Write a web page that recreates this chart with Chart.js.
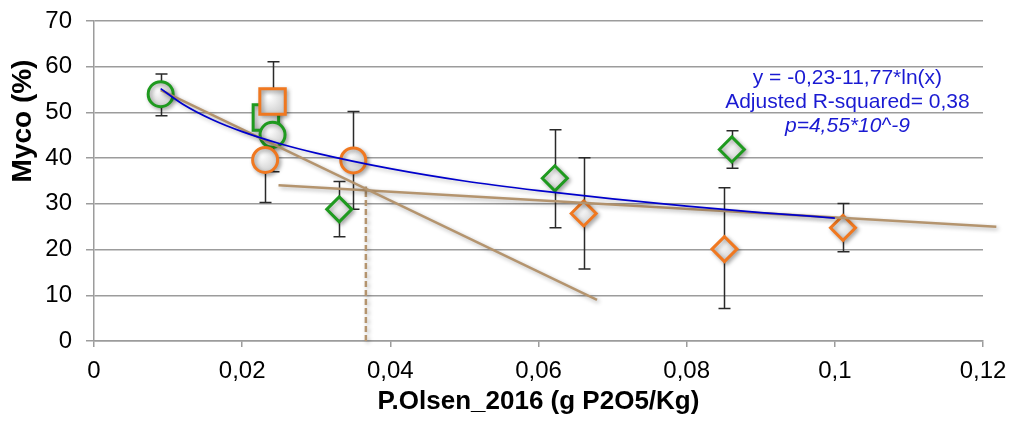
<!DOCTYPE html>
<html>
<head>
<meta charset="utf-8">
<script src="https://cdn.jsdelivr.net/npm/chart.js@4.4.0/dist/chart.umd.min.js"></script>
<style>
  html, body { margin: 0; padding: 0; background: #fff; }
  #wrap { width: 1013px; height: 430px; }
</style>
</head>
<body>
<div id="wrap"><canvas id="myco"></canvas></div>
<script>
// values
const xTickLabels = ['0', '0,02', '0,04', '0,06', '0,08', '0,1', '0,12'];

const greenCircleX = [0.0090, 0.0241];
const greenCircleY = [54.0, 45.1];
const greenCircleHi = [58.4, 52.0];
const greenCircleLo = [49.3, 37.0];

const orangeCircleX = [0.0231, 0.0350];
const orangeCircleY = [39.6, 39.5];
const orangeCircleHi = [45.0, 50.2];
const orangeCircleLo = [30.3, 28.8];

const greenSquareX = [0.0232];
const greenSquareY = [48.9];
const greenSquareHi = [52.0];
const greenSquareLo = [46.0];

const orangeSquareX = [0.0241];
const orangeSquareY = [52.4];
const orangeSquareHi = [61.1];
const orangeSquareLo = [44.0];

const greenDiamondX = [0.0331, 0.0622, 0.0861];
const greenDiamondY = [28.8, 35.6, 41.9];
const greenDiamondHi = [34.9, 46.2, 46.0];
const greenDiamondLo = [22.8, 24.8, 37.8];

const orangeDiamondX = [0.0661, 0.0851, 0.1011];
const orangeDiamondY = [27.9, 20.1, 24.75];
const orangeDiamondHi = [40.1, 33.5, 30.1];
const orangeDiamondLo = [15.75, 7.1, 19.5];

// blue log fit
const logFitX = [0.009, 0.012, 0.016, 0.02, 0.025, 0.03, 0.04, 0.05, 0.06, 0.07, 0.08, 0.09, 0.1];
const logFitY = [55.2, 51.8, 48.4, 45.8, 43.2, 41.1, 37.7, 35.0, 32.9, 31.1, 29.5, 28.1, 26.9];

// tan straight lines and the dashed breakpoint marker
const steepLineX = [0.0090, 0.0679];
const steepLineY = [54.9, 9.0];
const flatLineX = [0.0249, 0.1218];
const flatLineY = [34.05, 24.97];
const breakX = [0.0367, 0.0367];
const breakY = [0, 33.8];

const fitText = ['y = -0,23-11,77*ln(x)', 'Adjusted R-squared= 0,38', 'p=4,55*10^-9'];

const GREEN = '#1f9a1f';
const ORANGE = '#f07820';
const TAN = '#b4946e';
const BLUE = '#0000cc';
const GRID = '#9c9c9c';
const FONT = '"Liberation Sans", Arial, sans-serif';

const toPts = (xs, ys) => xs.map((x, i) => ({ x: x, y: ys[i] }));

function markerFill(c) {
  const ch = c.chart;
  if (!c.parsed || !ch.scales || !ch.scales.x || !ch.scales.y) return '#e0e0e0';
  const px = ch.scales.x.getPixelForValue(c.parsed.x);
  const py = ch.scales.y.getPixelForValue(c.parsed.y);
  if (!isFinite(px) || !isFinite(py)) return '#e0e0e0';
  const g = ch.ctx.createRadialGradient(px - 4, py - 5, 1, px, py, 18);
  g.addColorStop(0, '#ffffff');
  g.addColorStop(1, '#c2c2c2');
  return g;
}

function markers(label, xs, ys, hi, lo, color, style, radius) {
  return {
    type: 'scatter',
    label: label,
    data: toPts(xs, ys),
    errHi: hi,
    errLo: lo,
    pointStyle: style,
    pointRadius: radius,
    pointHoverRadius: radius,
    pointBorderWidth: 3,
    borderColor: color,
    backgroundColor: markerFill,
    shadow: true,
    clip: false
  };
}

function line(label, xs, ys, color, width, extra) {
  return Object.assign({
    type: 'line',
    label: label,
    data: toPts(xs, ys),
    borderColor: color,
    borderWidth: width,
    pointRadius: 0,
    fill: false,
    tension: 0,
    shadow: true,
    clip: false
  }, extra || {});
}

// soft drop shadow like the office chart
const shadowPlugin = {
  id: 'shadow',
  beforeDatasetDraw(chart, args) {
    const ds = chart.data.datasets[args.index];
    chart.ctx.save();
    if (ds.shadow) {
      chart.ctx.shadowColor = 'rgba(0,0,0,0.3)';
      chart.ctx.shadowBlur = 4;
      chart.ctx.shadowOffsetX = 2;
      chart.ctx.shadowOffsetY = 2;
    }
  },
  afterDatasetDraw(chart) {
    chart.ctx.restore();
  }
};

// error bars drawn below everything
const errorBarPlugin = {
  id: 'errorBars',
  beforeDatasetsDraw(chart) {
    const ctx = chart.ctx;
    const xs = chart.scales.x, ys = chart.scales.y;
    ctx.save();
    ctx.strokeStyle = '#2a2a2a';
    ctx.lineWidth = 1.5;
    chart.data.datasets.forEach(ds => {
      if (!ds.errHi) return;
      ds.data.forEach((p, i) => {
        const px = Math.round(xs.getPixelForValue(p.x)) + 0.5;
        const top = ys.getPixelForValue(ds.errHi[i]);
        const bot = ys.getPixelForValue(ds.errLo[i]);
        ctx.beginPath();
        ctx.moveTo(px, top); ctx.lineTo(px, bot);
        ctx.moveTo(px - 6, top); ctx.lineTo(px + 6, top);
        ctx.moveTo(px - 6, bot); ctx.lineTo(px + 6, bot);
        ctx.stroke();
      });
    });
    ctx.restore();
  }
};

// fit equation and y title
const textPlugin = {
  id: 'texts',
  afterDraw(chart) {
    const ctx = chart.ctx;
    const xs = chart.scales.x, ys = chart.scales.y;
    ctx.save();
    ctx.fillStyle = '#1a1ad2';
    ctx.textAlign = 'center';
    ctx.textBaseline = 'middle';
    const cx = xs.getPixelForValue(0.1017);
    const rows = [57.5, 52.3, 47.1];
    fitText.forEach((t, i) => {
      ctx.font = (i === 2 ? 'italic ' : '') + '21px ' + FONT;
      ctx.fillText(t, cx, ys.getPixelForValue(rows[i]));
    });
    ctx.translate(23, 121);
    ctx.rotate(-Math.PI / 2);
    ctx.fillStyle = '#000';
    ctx.font = 'bold 28px ' + FONT;
    ctx.fillText('Myco (%)', 0, 0);
    ctx.restore();
  }
};

new Chart(document.getElementById('myco').getContext('2d'), {
  data: {
    datasets: [
      line('log fit', logFitX, logFitY, BLUE, 1.75, { cubicInterpolationMode: 'monotone' }),
      line('trend 1', steepLineX, steepLineY, TAN, 2.5),
      line('trend 2', flatLineX, flatLineY, TAN, 2.5),
      line('break', breakX, breakY, TAN, 2.5, { borderDash: [6, 3] }),
      markers('orange circle', orangeCircleX, orangeCircleY, orangeCircleHi, orangeCircleLo, ORANGE, 'circle', 12.5),
      markers('green circle', greenCircleX, greenCircleY, greenCircleHi, greenCircleLo, GREEN, 'circle', 12.5),
      markers('orange square', orangeSquareX, orangeSquareY, orangeSquareHi, orangeSquareLo, ORANGE, 'rect', 18),
      markers('green square', greenSquareX, greenSquareY, greenSquareHi, greenSquareLo, GREEN, 'rect', 18),
      markers('green diamond', greenDiamondX, greenDiamondY, greenDiamondHi, greenDiamondLo, GREEN, 'rectRot', 12.5),
      markers('orange diamond', orangeDiamondX, orangeDiamondY, orangeDiamondHi, orangeDiamondLo, ORANGE, 'rectRot', 12.5)
    ]
  },
  options: {
    responsive: true,
    maintainAspectRatio: false,
    animation: false,
    layout: { padding: { top: 20, right: 30, left: 0, bottom: 0 } },
    plugins: {
      legend: { display: false },
      tooltip: { enabled: false }
    },
    scales: {
      x: {
        type: 'linear',
        min: 0,
        max: 0.12,
        afterFit: s => { s.height = 89; s.paddingLeft = 0; s.paddingRight = 0; },
        ticks: {
          stepSize: 0.02,
          color: '#000',
          padding: 10,
          maxRotation: 0,
          font: { family: FONT, size: 24 },
          callback: (v, i) => xTickLabels[i]
        },
        grid: { drawOnChartArea: false, color: GRID, lineWidth: 1.5, tickLength: 6 },
        border: { color: GRID, width: 1.5 },
        title: {
          display: true,
          text: 'P.Olsen_2016 (g P2O5/Kg)',
          color: '#000',
          padding: { top: 0, bottom: 13 },
          font: { family: FONT, size: 26, weight: 'bold' }
        }
      },
      y: {
        min: 0,
        max: 70,
        afterFit: s => { s.width = 94; s.paddingTop = 0; s.paddingBottom = 0; },
        ticks: {
          stepSize: 10,
          color: '#000',
          padding: 14,
          font: { family: FONT, size: 24 }
        },
        grid: { color: GRID, lineWidth: 1.5, tickLength: 8 },
        border: { color: GRID, width: 1.5 }
      }
    }
  },
  plugins: [shadowPlugin, errorBarPlugin, textPlugin]
});
</script>
</body>
</html>
